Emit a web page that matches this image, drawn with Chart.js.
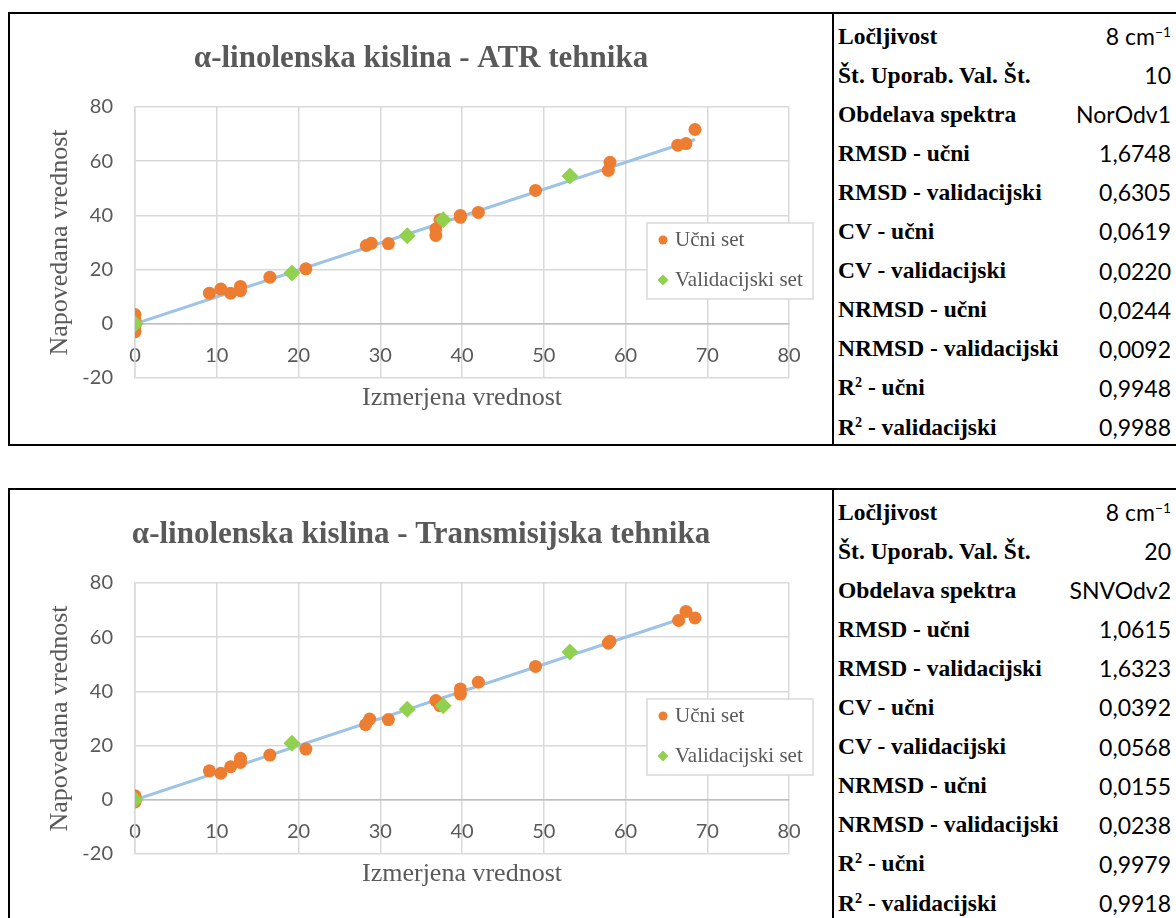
<!DOCTYPE html>
<html>
<head>
<meta charset="utf-8">
<script src="https://cdn.jsdelivr.net/npm/chart.js@4/dist/chart.umd.min.js"></script>
<style>
  html, body { margin: 0; padding: 0; background: #fff; width: 1176px; height: 918px; overflow: hidden; }
  .panel { position: absolute; left: 8px; width: 1166px; height: 430px; border: 2px solid #000; border-right: none; display: flex; }
  .panel canvas { display: block; }
  .stats { border-left: 2px solid #000; width: 342px; }
  .row { height: 39.09px; box-sizing: border-box; display: flex; align-items: center; justify-content: space-between; padding: 6px 5px 0 4px; }
  .lab { font: bold 23.5px "Liberation Serif", "Times New Roman", serif; line-height: 1; color: #000; white-space: nowrap; }
  .val { font: 23px Lato, Calibri, sans-serif; line-height: 1; color: #000; white-space: nowrap; }
  sup { font-size: 0.6em; line-height: 0; vertical-align: 0.55em; }
</style>
</head>
<body>
<div class="panel" style="top:12px">
  <canvas id="atr" width="822" height="430"></canvas>
  <div class="stats" id="atrStats"></div>
</div>
<div class="panel" style="top:488px">
  <canvas id="trans" width="822" height="430"></canvas>
  <div class="stats" id="transStats"></div>
</div>
<script>
"use strict";

// axis ticks
const xTicks = [0, 10, 20, 30, 40, 50, 60, 70, 80];
const yTicks = [-20, 0, 20, 40, 60, 80];

// ATR tehnika
const atrTrainX = [0, 0, 0, 0, 9.1, 10.5, 11.7, 12.9, 12.9, 16.5, 20.9, 28.3, 28.9, 31.0, 36.8, 36.8, 37.3, 39.8, 39.8, 42.0, 49.0, 57.9, 58.1, 66.4, 67.4, 68.5];
const atrTrainY = [3.4, 1.2, -1.0, -2.9, 11.3, 12.8, 11.3, 13.8, 12.2, 17.2, 20.3, 28.9, 29.7, 29.6, 32.6, 35.0, 38.4, 39.3, 40.0, 41.1, 49.2, 56.6, 59.6, 65.9, 66.5, 71.7];
const atrValX = [0, 19.2, 33.3, 37.7, 53.2];
const atrValY = [0, 18.7, 32.5, 38.4, 54.5];
const atrLineX = [0, 68.5];
const atrLineY = [0, 68.0];

// Transmisijska tehnika
const transTrainX = [0, 0, 0, 0, 9.1, 10.5, 11.7, 12.9, 12.9, 16.5, 20.9, 28.2, 28.7, 31.0, 36.8, 37.3, 39.8, 39.8, 42.0, 49.0, 57.9, 58.1, 66.5, 67.4, 68.5];
const transTrainY = [1.5, 0.8, -0.3, -0.8, 10.7, 9.8, 12.2, 15.3, 13.8, 16.5, 18.7, 27.7, 29.8, 29.6, 36.6, 34.7, 39.0, 40.9, 43.4, 49.2, 57.8, 58.5, 66.2, 69.5, 67.1];
const transValX = [0, 19.2, 33.3, 37.7, 53.2];
const transValY = [0, 20.9, 33.4, 34.7, 54.5];
const transLineX = [0, 67.0];
const transLineY = [0, 67.0];

// table
const statLabels = ["Ločljivost", "Št. Uporab. Val. Št.", "Obdelava spektra", "RMSD - učni", "RMSD - validacijski",
  "CV - učni", "CV - validacijski", "NRMSD - učni", "NRMSD - validacijski", "R<sup>2</sup> - učni", "R<sup>2</sup> - validacijski"];
const atrStats = ["8 cm<sup>−1</sup>", "10", "NorOdv1", "1,6748", "0,6305", "0,0619", "0,0220", "0,0244", "0,0092", "0,9948", "0,9988"];
const transStats = ["8 cm<sup>−1</sup>", "20", "SNVOdv2", "1,0615", "1,6323", "0,0392", "0,0568", "0,0155", "0,0238", "0,9979", "0,9918"];

const serif = '"Liberation Serif", "Times New Roman", serif';
const sans = 'Lato, Calibri, sans-serif';
const grey = "#595959";

function toPoints(xs, ys) {
  return xs.map((x, i) => ({ x: x, y: ys[i] }));
}

// legend box drawn inside the plot, like the Excel one
const boxLegend = {
  id: "boxLegend",
  afterDraw(chart) {
    const { ctx, chartArea } = chart;
    const left = chartArea.right - 142, top = chartArea.top + 116;
    ctx.save();
    ctx.fillStyle = "#fff";
    ctx.fillRect(left, top, 166, 76);
    ctx.strokeStyle = "#D9D9D9";
    ctx.lineWidth = 1.5;
    ctx.strokeRect(left, top, 166, 76);
    ctx.font = "21px " + serif;
    ctx.textBaseline = "middle";
    chart.data.datasets.filter(d => d.legendMark).forEach((ds, i) => {
      const y = top + 17 + i * 40;
      const x = left + 16;
      ctx.fillStyle = ds.backgroundColor;
      ctx.beginPath();
      if (ds.legendMark === "circle") {
        ctx.arc(x, y, 4.5, 0, Math.PI * 2);
      } else {
        ctx.moveTo(x - 5.5, y);
        ctx.lineTo(x, y - 5.5);
        ctx.lineTo(x + 5.5, y);
        ctx.lineTo(x, y + 5.5);
        ctx.closePath();
      }
      ctx.fill();
      ctx.fillStyle = grey;
      ctx.fillText(ds.label, left + 28, y);
    });
    ctx.restore();
  }
};

function makeChart(id, titleText, trainX, trainY, valX, valY, lineX, lineY) {
  return new Chart(document.getElementById(id), {
    type: "scatter",
    data: {
      datasets: [{
        label: "Učni set",
        data: toPoints(trainX, trainY),
        pointStyle: "circle",
        pointRadius: 6.5,
        backgroundColor: "#ED7D31",
        borderWidth: 0,
        legendMark: "circle",
        order: 2
      }, {
        label: "Validacijski set",
        data: toPoints(valX, valY),
        pointStyle: "rectRot",
        pointRadius: 8.5,
        backgroundColor: "#92D050",
        borderWidth: 0,
        legendMark: "diamond",
        order: 1
      }, {
        label: "trend",
        data: toPoints(lineX, lineY),
        showLine: true,
        borderColor: "#9DC3E6",
        borderWidth: 3,
        pointRadius: 0,
        order: 3
      }]
    },
    options: {
      responsive: false,
      animation: false,
      layout: { padding: { left: 0, right: 0, top: 0, bottom: 66 } },
      plugins: {
        legend: { display: false },
        tooltip: { enabled: false },
        title: {
          display: true,
          text: titleText,
          color: grey,
          font: { family: serif, size: 31, weight: "bold" },
          padding: { top: 26.4, bottom: 29.4 }
        }
      },
      scales: {
        x: {
          type: "linear",
          position: { y: 0 },
          min: 0,
          max: 80,
          afterBuildTicks: s => { s.ticks = xTicks.map(v => ({ value: v })); },
          afterFit: s => { s.height = 89.8; },
          grid: { color: "#D9D9D9", lineWidth: 1.5, drawTicks: false },
          border: { color: "#BFBFBF", width: 1.5 },
          ticks: { padding: 20, color: grey, font: { family: sans, size: 20 }, maxRotation: 0, callback: v => String(v) },
          title: { display: true, text: "Izmerjena vrednost", color: grey, font: { family: serif, size: 26 }, padding: 0 }
        },
        y: {
          min: -20,
          max: 80,
          afterBuildTicks: s => { s.ticks = yTicks.map(v => ({ value: v })); },
          afterFit: s => { s.width = 125; },
          grid: { color: "#D9D9D9", lineWidth: 1.5, drawTicks: false },
          border: { color: "#D9D9D9", width: 1.5 },
          ticks: { padding: 22, color: grey, font: { family: sans, size: 20 }, callback: v => String(v) },
          title: { display: true, text: "Napovedana vrednost", color: grey, font: { family: serif, size: 26 }, padding: { top: 34.4, bottom: 0 } }
        },
        // empty right-hand axis only keeps the plot clear of the right edge
        yRight: {
          position: "right",
          min: -20,
          max: 80,
          afterFit: s => { s.width = 43; },
          grid: { display: false },
          border: { display: false },
          ticks: { display: false }
        }
      }
    },
    plugins: [boxLegend]
  });
}

function fillStats(id, values) {
  const box = document.getElementById(id);
  statLabels.forEach((lab, i) => {
    const row = document.createElement("div");
    row.className = "row";
    row.innerHTML = '<span class="lab">' + lab + '</span><span class="val">' + values[i] + "</span>";
    box.appendChild(row);
  });
}

fillStats("atrStats", atrStats);
fillStats("transStats", transStats);
makeChart("atr", "α-linolenska kislina - ATR tehnika", atrTrainX, atrTrainY, atrValX, atrValY, atrLineX, atrLineY);
makeChart("trans", "α-linolenska kislina - Transmisijska tehnika", transTrainX, transTrainY, transValX, transValY, transLineX, transLineY);
</script>
</body>
</html>
